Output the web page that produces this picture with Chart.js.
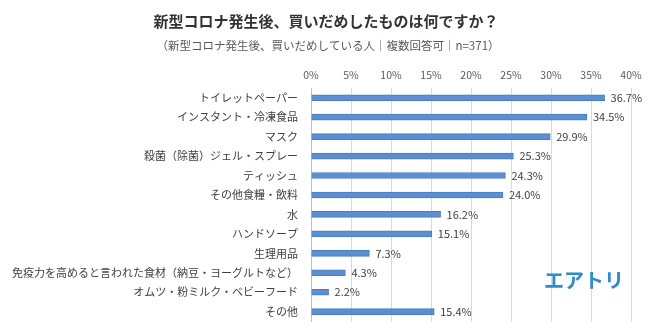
<!DOCTYPE html>
<html lang="ja">
  <head>
    <meta charset="utf-8" />
    <title>新型コロナ発生後、買いだめしたものは何ですか？</title>
    <style>
      * {
        margin: 0;
        padding: 0;
      }
      body {
        background: #fff;
      }
      .chartBox {
        width: 650px;
        height: 333px;
      }
    </style>
  </head>
  <body>
    <div class="chartBox">
      <canvas id="myChart"></canvas>
    </div>

    <script src="https://cdn.jsdelivr.net/npm/chart.js"></script>

    <script>
      const categories = [
        "トイレットペーパー",
        "インスタント・冷凍食品",
        "マスク",
        "殺菌（除菌）ジェル・スプレー",
        "ティッシュ",
        "その他食糧・飲料",
        "水",
        "ハンドソープ",
        "生理用品",
        "免疫力を高めると言われた食材（納豆・ヨーグルトなど）",
        "オムツ・粉ミルク・ベビーフード",
        "その他",
      ];
      const shares = [36.7, 34.5, 29.9, 25.3, 24.3, 24.0, 16.2, 15.1, 7.3, 4.3, 2.2, 15.4];
      const tickStep = 5;
      const axisMax = 40;

      const FONT = "'Noto Sans CJK JP', 'Noto Sans', sans-serif";

      // title, subtitle and logo
      const headerText = {
        id: "headerText",
        afterDraw(chart) {
          const { ctx } = chart;
          ctx.save();
          ctx.textAlign = "center";
          ctx.textBaseline = "middle";
          ctx.fillStyle = "#333333";
          ctx.font = "bold 15px " + FONT;
          ctx.fillText("新型コロナ発生後、買いだめしたものは何ですか？", 326, 21);
          ctx.fillStyle = "#595959";
          ctx.font = "11.5px " + FONT;
          ctx.fillText("（新型コロナ発生後、買いだめしている人｜複数回答可｜n=371）", 328, 46);
          ctx.fillStyle = "#2e8ccb";
          ctx.font = "bold 20px " + FONT;
          ctx.fillText("エアトリ", 584, 280);
          ctx.restore();
        },
      };

      // value labels at the end of each bar
      const valueLabels = {
        id: "valueLabels",
        afterDatasetsDraw(chart) {
          const { ctx } = chart;
          const meta = chart.getDatasetMeta(0);
          ctx.save();
          ctx.fillStyle = "#404040";
          ctx.font = "11px " + FONT;
          ctx.textAlign = "left";
          ctx.textBaseline = "middle";
          meta.data.forEach((bar, i) => {
            ctx.fillText(shares[i].toFixed(1) + "%", bar.x + 6, bar.y);
          });
          ctx.restore();
        },
      };

      const config = {
        type: "bar",
        data: {
          labels: categories,
          datasets: [
            {
              data: shares,
              backgroundColor: "#5b8fd2",
              borderColor: "#4a7dbf",
              borderWidth: 1,
              barThickness: 6,
            },
          ],
        },
        options: {
          indexAxis: "y",
          responsive: true,
          maintainAspectRatio: false,
          animation: false,
          layout: {
            padding: { top: 62, right: 19, bottom: 1, left: 0 },
          },
          plugins: {
            legend: { display: false },
            tooltip: { enabled: false },
          },
          scales: {
            x: {
              position: "top",
              min: 0,
              max: axisMax,
              ticks: {
                stepSize: tickStep,
                color: "#595959",
                font: { family: FONT, size: 10.5 },
                padding: 7,
                callback: (v) => v + "%",
              },
              grid: {
                color: "#d9d9d9",
                drawTicks: false,
              },
              border: { display: false },
              afterFit(scale) {
                scale.height = 26;
              },
            },
            y: {
              ticks: {
                color: "#404040",
                font: { family: FONT, size: 11 },
                padding: 5,
              },
              grid: { display: false },
              border: { color: "#bfbfbf", width: 1 },
              afterFit(scale) {
                scale.width = 311;
              },
            },
          },
        },
        plugins: [headerText, valueLabels],
      };

      const myChart = new Chart(document.getElementById("myChart"), config);
    </script>
  </body>
</html>
